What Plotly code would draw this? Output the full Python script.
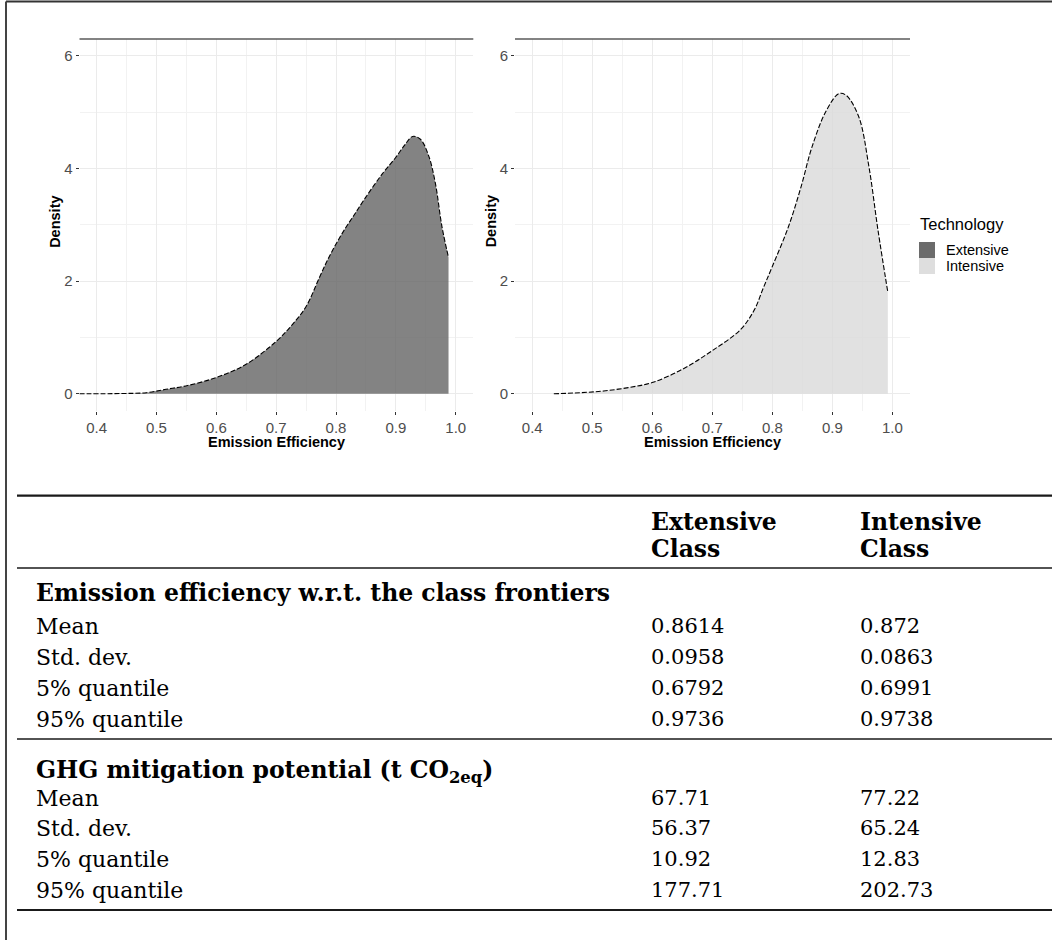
import plotly.graph_objects as go

W, H = 1052, 940

# ---------------- data ----------------
ext_x = [0.371, 0.44, 0.483, 0.516, 0.549, 0.60, 0.649, 0.70, 0.727, 0.75, 0.772, 0.786, 0.80,
         0.815, 0.83, 0.849, 0.877, 0.90, 0.915, 0.928, 0.941, 0.955, 0.966, 0.977, 0.988]
ext_y = [0.0, 0.005, 0.02, 0.08, 0.14, 0.29, 0.52, 0.93, 1.23, 1.55, 2.06, 2.38, 2.66,
         2.93, 3.17, 3.48, 3.90, 4.20, 4.42, 4.57, 4.52, 4.22, 3.74, 2.97, 2.42]

int_x = [0.436, 0.48, 0.519, 0.56, 0.600, 0.651, 0.699, 0.747, 0.770, 0.785, 0.800, 0.827,
         0.848, 0.866, 0.890, 0.911, 0.923, 0.944, 0.961, 0.976, 0.9925]
int_y = [0.0, 0.02, 0.05, 0.11, 0.20, 0.44, 0.76, 1.14, 1.49, 1.88, 2.26, 2.97,
         3.68, 4.38, 5.03, 5.33, 5.30, 4.92, 4.03, 2.91, 1.80]

x_ticks = [0.4, 0.5, 0.6, 0.7, 0.8, 0.9, 1.0]
x_tick_labels = ["0.4", "0.5", "0.6", "0.7", "0.8", "0.9", "1.0"]
y_ticks = [0, 2, 4, 6]
y_tick_labels = ["0", "2", "4", "6"]

technologies = ["Extensive", "Intensive"]

col_headers = [["Extensive", "Class"], ["Intensive", "Class"]]
section1_title = "Emission efficiency w.r.t. the class frontiers"
section2_title = "GHG mitigation potential (t CO<sub>2eq</sub>)"
row_labels = ["Mean", "Std. dev.", "5% quantile", "95% quantile"]
eff_extensive = ["0.8614", "0.0958", "0.6792", "0.9736"]
eff_intensive = ["0.872", "0.0863", "0.6991", "0.9738"]
ghg_extensive = ["67.71", "56.37", "10.92", "177.71"]
ghg_intensive = ["77.22", "65.24", "12.83", "202.73"]

# ---------------- styling ----------------
FILL_EXT = "rgba(100,100,100,0.8)"
FILL_INT = "rgba(217,217,217,0.8)"
KEY_EXT = "#6b6b6b"
KEY_INT = "#dedede"
SANS = "Liberation Sans, Arial, sans-serif"
SERIF = "DejaVu Serif, serif"

def px(x):
    return x / W

def py(y):
    return 1 - y / H

fig = go.Figure()

fig.add_trace(go.Scatter(x=ext_x, y=ext_y, mode="lines", fill="tozeroy",
                         fillcolor=FILL_EXT,
                         line=dict(color="black", width=1.1, dash="5px,2px",
                                   shape="spline", smoothing=1.0),
                         xaxis="x", yaxis="y", showlegend=False, name=technologies[0]))
fig.add_trace(go.Scatter(x=int_x, y=int_y, mode="lines", fill="tozeroy",
                         fillcolor=FILL_INT,
                         line=dict(color="black", width=1.1, dash="5px,2px",
                                   shape="spline", smoothing=1.0),
                         xaxis="x2", yaxis="y2", showlegend=False, name=technologies[1]))

panel_x = [(79.5, 473.3), (515.0, 910.0)]
panel_top, panel_bot = 39.0, 410.7

xr = [0.3713, 1.0294]
yr = [-0.3, 6.3]

def xaxis_cfg(dom):
    return dict(domain=[px(dom[0]), px(dom[1])], range=xr, tickvals=x_ticks,
                ticktext=x_tick_labels, showgrid=True, gridcolor="#ebebeb", gridwidth=1,
                zeroline=False, showline=False, ticks="outside", ticklen=3,
                tickcolor="#333333", tickwidth=1,
                tickfont=dict(family=SANS, size=15, color="#4d4d4d"),
                minor=dict(tick0=0.4, dtick=0.05, showgrid=True, gridcolor="#f2f2f2",
                           gridwidth=0.7),
                fixedrange=True)

def yaxis_cfg(anchor):
    return dict(domain=[py(panel_bot), py(panel_top)], range=yr, tickvals=y_ticks,
                ticktext=y_tick_labels, showgrid=True, gridcolor="#ebebeb", gridwidth=1,
                zeroline=False, showline=False, ticks="outside", ticklen=3,
                tickcolor="#333333", tickwidth=1, anchor=anchor,
                tickfont=dict(family=SANS, size=15, color="#4d4d4d"),
                minor=dict(tick0=0, dtick=1, showgrid=True, gridcolor="#f2f2f2",
                           gridwidth=0.7),
                fixedrange=True)

fig.update_layout(
    width=W, height=H, autosize=False,
    margin=dict(l=0, r=0, t=0, b=0),
    paper_bgcolor="white", plot_bgcolor="white",
    showlegend=False,
    xaxis=dict(**xaxis_cfg(panel_x[0]), anchor="y"),
    yaxis=yaxis_cfg("x"),
    xaxis2=dict(**xaxis_cfg(panel_x[1]), anchor="y2"),
    yaxis2=yaxis_cfg("x2"),
)

shapes = []
ann = []

# outer frame (top + left)
shapes.append(dict(type="line", xref="paper", yref="paper", x0=px(6), x1=1.0,
                   y0=py(1.5), y1=py(1.5), line=dict(color="#333333", width=2)))
shapes.append(dict(type="line", xref="paper", yref="paper", x0=px(6), x1=px(6),
                   y0=py(1.5), y1=0, line=dict(color="#444444", width=2)))

# panel top lines and axis titles
for i, (a, b) in enumerate(panel_x):
    shapes.append(dict(type="line", xref="paper", yref="paper", x0=px(a), x1=px(b),
                       y0=py(panel_top), y1=py(panel_top),
                       line=dict(color="#5a5a5a", width=1.6)))
    ann.append(dict(text="<b>Emission Efficiency</b>", xref="paper", yref="paper",
                    x=px((a + b) / 2), y=py(442), xanchor="center", yanchor="middle",
                    showarrow=False, font=dict(family=SANS, size=14.5, color="black")))
    ann.append(dict(text="<b>Density</b>", xref="paper", yref="paper",
                    x=px(a - 24.5), y=py((panel_top + panel_bot) / 2 - 3),
                    xanchor="center", yanchor="middle", textangle=-90,
                    showarrow=False, font=dict(family=SANS, size=14.5, color="black")))

# legend
ann.append(dict(text="Technology", xref="paper", yref="paper", x=px(918), y=py(224),
                xanchor="left", yanchor="middle", showarrow=False,
                font=dict(family=SANS, size=16.5, color="black")))
for k, (lab, col) in enumerate(zip(technologies, [KEY_EXT, KEY_INT])):
    y0 = 242 + 16 * k
    shapes.append(dict(type="rect", xref="paper", yref="paper", x0=px(919), x1=px(935),
                       y0=py(y0), y1=py(y0 + 16), fillcolor=col, line=dict(width=0)))
    ann.append(dict(text=lab, xref="paper", yref="paper", x=px(944), y=py(y0 + 8),
                    xanchor="left", yanchor="middle", showarrow=False,
                    font=dict(family=SANS, size=14.5, color="black")))

# table rules
for yy, wdt in [(495.7, 2.2), (568, 1.3), (739, 1.3), (910, 2.2)]:
    shapes.append(dict(type="line", xref="paper", yref="paper", x0=px(17), x1=1.0,
                       y0=py(yy), y1=py(yy), line=dict(color="#1a1a1a", width=wdt)))

COLS = [34, 649, 858]
NUM_SIZE = 21
LAB_SIZE = 22
BOLD_SIZE = 23.5

def txt(s, x, y, bold=False, size=LAB_SIZE):
    ann.append(dict(text=("<b>%s</b>" % s) if bold else s, xref="paper", yref="paper",
                    x=px(x), y=py(y), xanchor="left", yanchor="middle", showarrow=False,
                    font=dict(family=SERIF, size=size, color="black")))

for c, hdr in enumerate(col_headers):
    txt(hdr[0], COLS[c + 1], 522, bold=True, size=BOLD_SIZE)
    txt(hdr[1], COLS[c + 1], 549, bold=True, size=BOLD_SIZE)

txt(section1_title, COLS[0], 593, bold=True, size=BOLD_SIZE)
for r, lab in enumerate(row_labels):
    yy = [626, 657, 688, 719][r]
    txt(lab, COLS[0], yy)
    txt(eff_extensive[r], COLS[1], yy, size=NUM_SIZE)
    txt(eff_intensive[r], COLS[2], yy, size=NUM_SIZE)

txt(section2_title, COLS[0], 771, bold=True, size=BOLD_SIZE)
for r, lab in enumerate(row_labels):
    yy = [798, 828, 859, 890][r]
    txt(lab, COLS[0], yy)
    txt(ghg_extensive[r], COLS[1], yy, size=NUM_SIZE)
    txt(ghg_intensive[r], COLS[2], yy, size=NUM_SIZE)

fig.update_layout(shapes=shapes, annotations=ann)

fig.write_html("out.html", config={"displayModeBar": False})
